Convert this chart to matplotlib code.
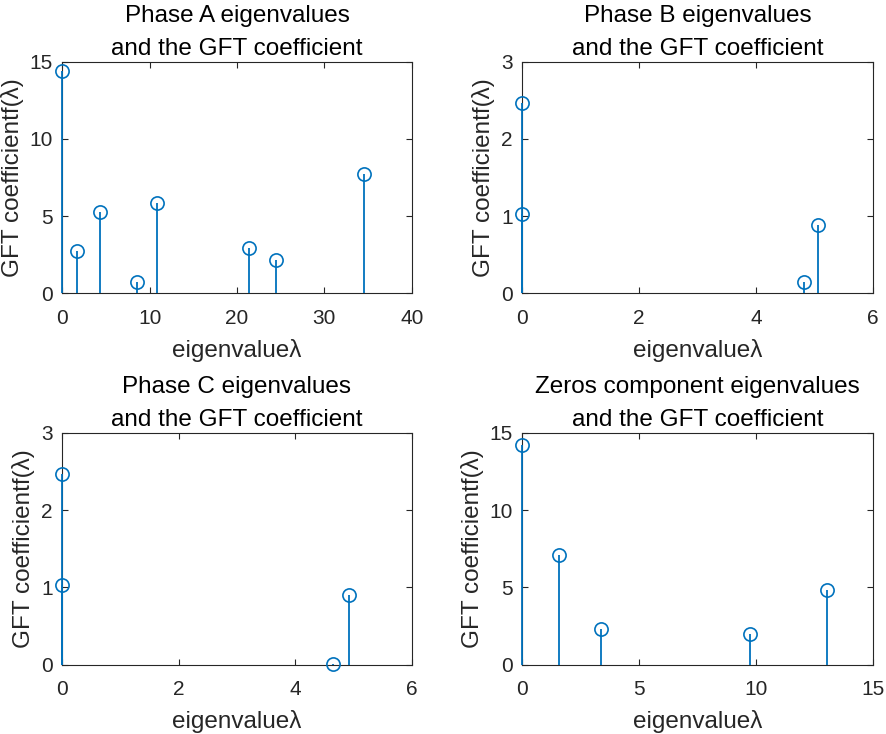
import matplotlib
matplotlib.use('Agg')
import matplotlib.pyplot as plt
import numpy as np

plt.rcParams['font.family'] = ['Liberation Sans', 'DejaVu Sans']

# eigenvalues (lambda) and GFT coefficients
lam_a = [0.0, 1.68, 4.31, 8.51, 10.88, 21.37, 24.5, 34.58]
gft_a = [14.42, 2.76, 5.27, 0.71, 5.83, 2.96, 2.16, 7.75]

lam_b = [0.0, 0.0, 4.82, 5.06]
gft_b = [2.47, 1.03, 0.15, 0.89]

lam_c = [0.0, 0.0, 4.64, 4.92]
gft_c = [2.47, 1.03, 0.01, 0.90]

lam_z = [0.0, 1.55, 3.37, 9.72, 13.03]
gft_z = [14.25, 7.10, 2.31, 2.01, 4.86]

titles = ['Phase A eigenvalues\nand the GFT coefficient',
          'Phase B eigenvalues\nand the GFT coefficient',
          'Phase C eigenvalues\nand the GFT coefficient',
          'Zeros component eigenvalues\nand the GFT coefficient']
xlims = [(0, 40), (0, 6), (0, 6), (0, 15)]
ylims = [(0, 15), (0, 3), (0, 3), (0, 15)]
xtick_sets = [[0, 10, 20, 30, 40], [0, 2, 4, 6], [0, 2, 4, 6], [0, 5, 10, 15]]
ytick_sets = [[0, 5, 10, 15], [0, 1, 2, 3], [0, 1, 2, 3], [0, 5, 10, 15]]

W, H = 886, 734
fig = plt.figure(figsize=(W / 100, H / 100), dpi=100)

# axes boxes in pixels: left, top, right, bottom
boxes = [(62.3, 61.7, 411.7, 293.3),
         (522.3, 61.7, 873.0, 293.3),
         (62.3, 433.0, 411.7, 664.7),
         (522.3, 433.0, 873.0, 664.7)]

blue = (0, 0.447, 0.741)
dark = (0.15, 0.15, 0.15)

data = [(lam_a, gft_a), (lam_b, gft_b), (lam_c, gft_c), (lam_z, gft_z)]

for i, (lam, gft) in enumerate(data):
    l, t, r, b = boxes[i]
    ax = fig.add_axes([l / W, (H - b) / H, (r - l) / W, (b - t) / H])
    markerline, stemlines, baseline = ax.stem(lam, gft, basefmt=' ')
    markerline.set_color(blue)
    markerline.set_markerfacecolor('none')
    markerline.set_markersize(9.5)
    markerline.set_markeredgewidth(1.2)
    markerline.set_clip_on(False)
    markerline.set_zorder(4)
    stemlines.set_color(blue)
    stemlines.set_linewidth(1.3)
    stemlines.set_zorder(3)
    stemlines.set_clip_on(False)

    ax.set_xlim(*xlims[i])
    ax.set_ylim(*ylims[i])
    ax.set_xticks(xtick_sets[i])
    ax.set_yticks(ytick_sets[i])
    ax.tick_params(direction='in', top=True, right=True, length=4,
                   width=0.8, labelsize=15, colors=dark)
    ax.tick_params(axis='x', pad=11)
    ax.tick_params(axis='y', pad=7)
    for s in ax.spines.values():
        s.set_color(dark)
        s.set_linewidth(0.8)
    ax.set_title(titles[i], fontsize=17.5, linespacing=1.65, pad=5)
    ax.set_xlabel('eigenvalueλ', fontsize=17.5, color=dark, labelpad=8)
    ax.set_ylabel('GFT coefficientf(λ)', fontsize=17.5, color=dark, labelpad=4)

fig.savefig('out.png', dpi=100)
